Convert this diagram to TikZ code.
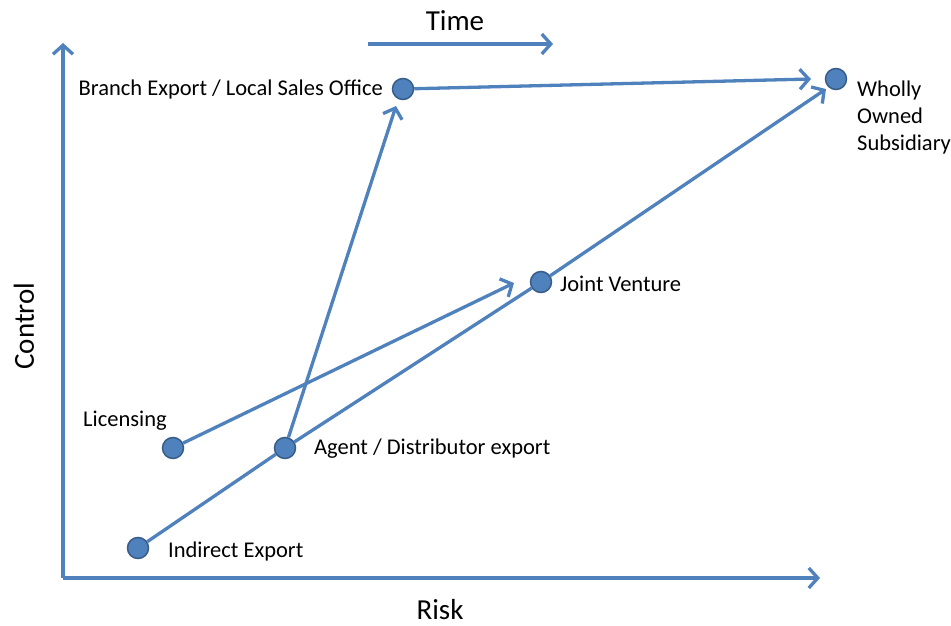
\documentclass[tikz,border=0pt]{standalone}
\usepackage{fontspec}
\setmainfont{Carlito}
\usetikzlibrary{arrows.meta}
\definecolor{obl}{HTML}{4F81BD}
\definecolor{obd}{HTML}{385D8A}
\begin{document}
\begin{tikzpicture}[x=1pt,y=-1pt,
  conn/.style={draw=obl,line width=3.3pt},
  arr/.style={conn,-{Straight Barb[length=9pt,width=20pt,line width=3.3pt]}},
  dot/.style={circle,fill=obl,draw=obd,line width=1.5pt,minimum size=21pt,inner sep=0pt},
  lab/.style={font=\fontsize{22.5}{27}\selectfont,inner sep=0pt,text=black},
  axlab/.style={font=\fontsize{29}{34}\selectfont,inner sep=0pt,text=black}]
\useasboundingbox (0,0) rectangle (951,626);
% axes
\coordinate (o) at (63,578);
\coordinate (ytop) at (63,43);
\coordinate (xend) at (820,578);
\draw[arr] (o) -- (ytop);
\draw[arr] (o) -- (xend);
\coordinate (t1) at (368,44);
\coordinate (t2) at (553,44);
\draw[arr] (t1) -- (t2);
\node[axlab] (time) at (455,21) {Time};
\node[axlab,rotate=90] (control) at (24,326) {Control};
\node[axlab] (risk) at (440,610) {Risk};
% nodes
\node[dot] (branch) at (403,89) {};
\node[dot] (wholly) at (836,79) {};
\node[dot] (jv) at (541,282) {};
\node[dot] (lic) at (173,448) {};
\node[dot] (agent) at (285,448) {};
\node[dot] (ind) at (138,548) {};
% labels
\node[lab,anchor=east] (lbranch) at (383,90) {Branch Export / Local Sales Office};
\node[lab,anchor=north west,align=left] (lwholly) at (857,81) {Wholly\\Owned\\Subsidiary};
\node[lab,anchor=west] (ljv) at (560,284) {Joint Venture};
\node[lab,anchor=center] (llic) at (125,421) {Licensing};
\node[lab,anchor=west] (lagent) at (314,449) {Agent / Distributor export};
\node[lab,anchor=west] (lind) at (168,551) {Indirect Export};
% connectors
\coordinate (bw) at (811,79);
\draw[arr] (branch) -- (bw);
\coordinate (ab) at (396,106);
\draw[arr] (agent) -- (ab);
\coordinate (lj) at (514,283);
\draw[arr] (lic) -- (lj);
\coordinate (jw) at (826,89);
\draw[conn] (ind) -- (agent);
\draw[conn] (agent) -- (jv);
\draw[arr] (jv) -- (jw);
\end{tikzpicture}
\end{document}
